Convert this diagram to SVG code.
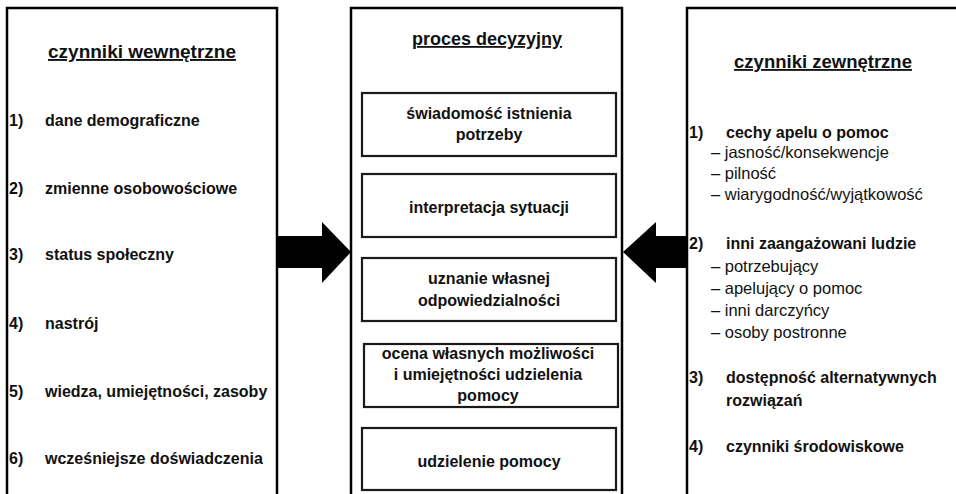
<svg xmlns="http://www.w3.org/2000/svg" width="956" height="494" viewBox="0 0 956 494">
  <style>
    .panel { fill: #ffffff; stroke: #000000; stroke-width: 2.5; }
    .step { fill: #ffffff; stroke: #1a1a1a; stroke-width: 2.2; }
    text { font-family: "Liberation Sans", Arial, sans-serif; fill: #111111; }
    .title { font-size: 18px; font-weight: bold; text-decoration: underline; text-anchor: middle; }
    .item { font-size: 16px; font-weight: bold; }
    .sub { font-size: 16.5px; font-weight: normal; }
    .step-label { font-size: 16px; font-weight: bold; text-anchor: middle; }
    .arrow { fill: #000000; }
  </style>

  <rect width="956" height="494" fill="#ffffff"/>

  <!-- internal factors -->
  <g id="internal-factors">
    <rect class="panel" x="7" y="8" width="270" height="500"/>
    <text class="title" x="142" y="58" style="font-size:19px">czynniki wewnętrzne</text>
    <text class="item" x="9" y="126">1)</text><text class="item" x="45" y="126">dane demograficzne</text>
    <text class="item" x="9" y="194">2)</text><text class="item" x="45" y="194">zmienne osobowościowe</text>
    <text class="item" x="9" y="260">3)</text><text class="item" x="45" y="260">status społeczny</text>
    <text class="item" x="9" y="329">4)</text><text class="item" x="45" y="329">nastrój</text>
    <text class="item" x="9" y="397">5)</text><text class="item" x="45" y="397">wiedza, umiejętności, zasoby</text>
    <text class="item" x="9" y="464">6)</text><text class="item" x="45" y="464">wcześniejsze doświadczenia</text>
  </g>

  <!-- decision process -->
  <g id="decision-process">
    <rect class="panel" x="351" y="8" width="271" height="500"/>
    <text class="title" x="487" y="45">proces decyzyjny</text>
  </g>

  <g id="step-awareness">
    <rect class="step" x="362" y="93" width="254" height="63"/>
    <text class="step-label" x="489" y="119">świadomość istnienia</text>
    <text class="step-label" x="489" y="140">potrzeby</text>
  </g>

  <g id="step-interpretation">
    <rect class="step" x="362" y="174" width="254" height="63"/>
    <text class="step-label" x="489" y="213">interpretacja sytuacji</text>
  </g>

  <g id="step-responsibility">
    <rect class="step" x="362" y="258" width="254" height="63"/>
    <text class="step-label" x="489" y="284">uznanie własnej</text>
    <text class="step-label" x="489" y="306">odpowiedzialności</text>
  </g>

  <g id="step-competence">
    <rect class="step" x="364" y="344" width="254" height="63"/>
    <text class="step-label" x="488" y="359">ocena własnych możliwości</text>
    <text class="step-label" x="488" y="380">i umiejętności udzielenia</text>
    <text class="step-label" x="488" y="401">pomocy</text>
  </g>

  <g id="step-helping">
    <rect class="step" x="362" y="428" width="254" height="62"/>
    <text class="step-label" x="489" y="467">udzielenie pomocy</text>
  </g>

  <!-- external factors -->
  <g id="external-factors">
    <rect class="panel" x="687" y="8" width="300" height="500"/>
    <text class="title" x="823" y="68" style="font-size:18.5px">czynniki zewnętrzne</text>
    <text class="item" x="689" y="138">1)</text><text class="item" x="726" y="138">cechy apelu o pomoc</text>
    <text class="sub" x="711" y="158">– jasność/konsekwencje</text>
    <text class="sub" x="711" y="179">– pilność</text>
    <text class="sub" x="711" y="200">– wiarygodność/wyjątkowość</text>
    <text class="item" x="689" y="249">2)</text><text class="item" x="726" y="249">inni zaangażowani ludzie</text>
    <text class="sub" x="711" y="272">– potrzebujący</text>
    <text class="sub" x="711" y="294">– apelujący o pomoc</text>
    <text class="sub" x="711" y="316">– inni darczyńcy</text>
    <text class="sub" x="711" y="338">– osoby postronne</text>
    <text class="item" x="689" y="383">3)</text><text class="item" x="726" y="383">dostępność alternatywnych</text>
    <text class="item" x="726" y="406">rozwiązań</text>
    <text class="item" x="689" y="452">4)</text><text class="item" x="726" y="452">czynniki środowiskowe</text>
  </g>

  <!-- block arrows into the decision process -->
  <g id="connectors">
    <polygon class="arrow" points="277,236 322,236 322,222 351,252 322,283 322,268 277,268"/>
    <polygon class="arrow" points="687,236 656,236 656,222 623,252 656,283 656,268 687,268"/>
  </g>
</svg>
